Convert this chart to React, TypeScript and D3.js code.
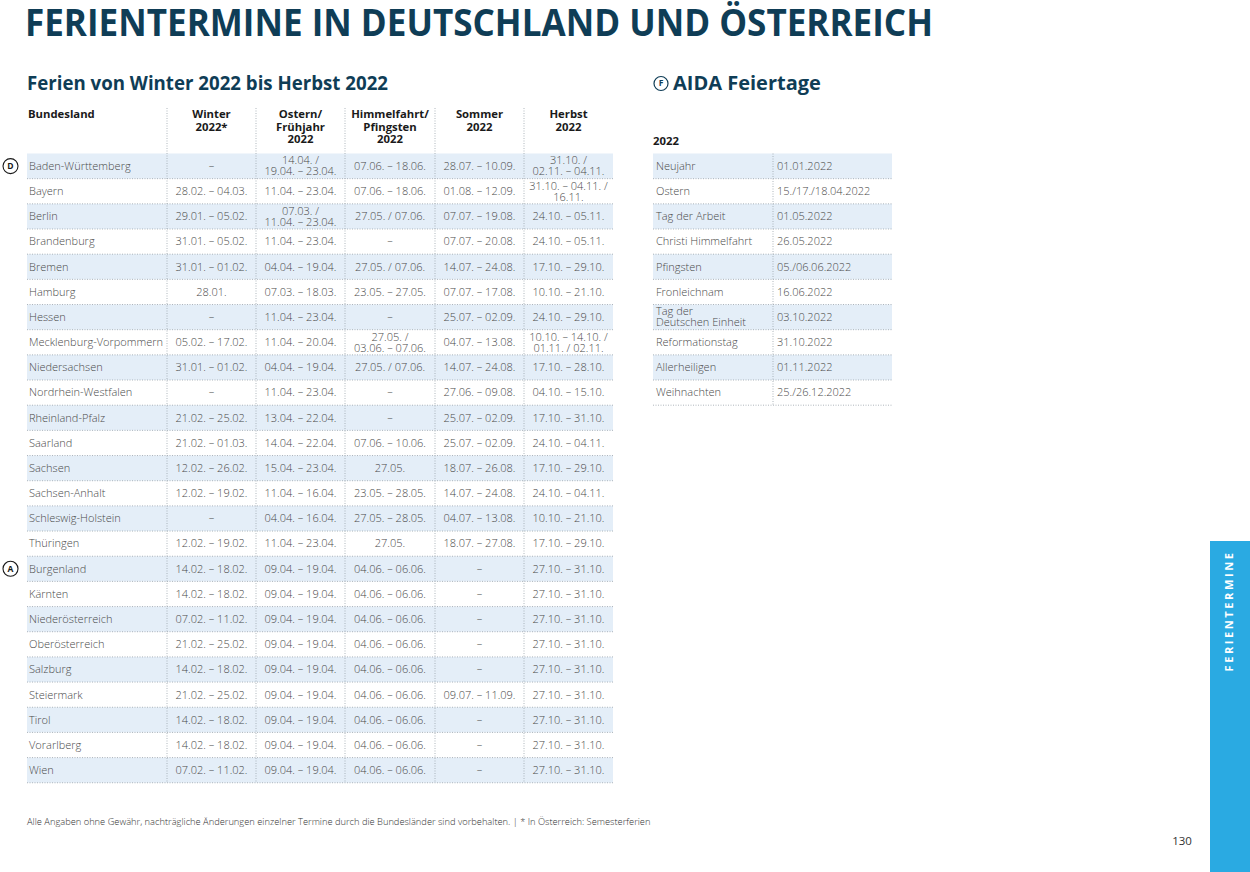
import React from "react";
import * as d3 from "d3";

const states = [
  "Baden-Württemberg", "Bayern", "Berlin", "Brandenburg", "Bremen", "Hamburg", "Hessen",
  "Mecklenburg-Vorpommern", "Niedersachsen", "Nordrhein-Westfalen", "Rheinland-Pfalz",
  "Saarland", "Sachsen", "Sachsen-Anhalt", "Schleswig-Holstein", "Thüringen",
  "Burgenland", "Kärnten", "Niederösterreich", "Oberösterreich", "Salzburg",
  "Steiermark", "Tirol", "Vorarlberg", "Wien",
];
const countryMarks = [
  { state: "Baden-Württemberg", mark: "D" },
  { state: "Burgenland", mark: "A" },
];
const headers = [
  ["Bundesland"],
  ["Winter", "2022*"],
  ["Ostern/", "Frühjahr", "2022"],
  ["Himmelfahrt/", "Pfingsten", "2022"],
  ["Sommer", "2022"],
  ["Herbst", "2022"],
];
const winter = [
  "–", "28.02. – 04.03.", "29.01. – 05.02.", "31.01. – 05.02.", "31.01. – 01.02.", "28.01.", "–",
  "05.02. – 17.02.", "31.01. – 01.02.", "–", "21.02. – 25.02.", "21.02. – 01.03.",
  "12.02. – 26.02.", "12.02. – 19.02.", "–", "12.02. – 19.02.",
  "14.02. – 18.02.", "14.02. – 18.02.", "07.02. – 11.02.", "21.02. – 25.02.", "14.02. – 18.02.",
  "21.02. – 25.02.", "14.02. – 18.02.", "14.02. – 18.02.", "07.02. – 11.02.",
];
const ostern = [
  "14.04. /\n19.04. – 23.04.", "11.04. – 23.04.", "07.03. /\n11.04. – 23.04.", "11.04. – 23.04.",
  "04.04. – 19.04.", "07.03. – 18.03.", "11.04. – 23.04.", "11.04. – 20.04.", "04.04. – 19.04.",
  "11.04. – 23.04.", "13.04. – 22.04.", "14.04. – 22.04.", "15.04. – 23.04.", "11.04. – 16.04.",
  "04.04. – 16.04.", "11.04. – 23.04.",
  "09.04. – 19.04.", "09.04. – 19.04.", "09.04. – 19.04.", "09.04. – 19.04.", "09.04. – 19.04.",
  "09.04. – 19.04.", "09.04. – 19.04.", "09.04. – 19.04.", "09.04. – 19.04.",
];
const himmelfahrt = [
  "07.06. – 18.06.", "07.06. – 18.06.", "27.05. / 07.06.", "–", "27.05. / 07.06.",
  "23.05. – 27.05.", "–", "27.05. /\n03.06. – 07.06.", "27.05. / 07.06.", "–", "–",
  "07.06. – 10.06.", "27.05.", "23.05. – 28.05.", "27.05. – 28.05.", "27.05.",
  "04.06. – 06.06.", "04.06. – 06.06.", "04.06. – 06.06.", "04.06. – 06.06.", "04.06. – 06.06.",
  "04.06. – 06.06.", "04.06. – 06.06.", "04.06. – 06.06.", "04.06. – 06.06.",
];
const sommer = [
  "28.07. – 10.09.", "01.08. – 12.09.", "07.07. – 19.08.", "07.07. – 20.08.", "14.07. – 24.08.",
  "07.07. – 17.08.", "25.07. – 02.09.", "04.07. – 13.08.", "14.07. – 24.08.", "27.06. – 09.08.",
  "25.07. – 02.09.", "25.07. – 02.09.", "18.07. – 26.08.", "14.07. – 24.08.", "04.07. – 13.08.",
  "18.07. – 27.08.",
  "–", "–", "–", "–", "–", "09.07. – 11.09.", "–", "–", "–",
];
const herbst = [
  "31.10. /\n02.11. – 04.11.", "31.10. – 04.11. /\n16.11.", "24.10. – 05.11.", "24.10. – 05.11.",
  "17.10. – 29.10.", "10.10. – 21.10.", "24.10. – 29.10.", "10.10. – 14.10. /\n01.11. / 02.11.",
  "17.10. – 28.10.", "04.10. – 15.10.", "17.10. – 31.10.", "24.10. – 04.11.", "17.10. – 29.10.",
  "24.10. – 04.11.", "10.10. – 21.10.", "17.10. – 29.10.",
  "27.10. – 31.10.", "27.10. – 31.10.", "27.10. – 31.10.", "27.10. – 31.10.", "27.10. – 31.10.",
  "27.10. – 31.10.", "27.10. – 31.10.", "27.10. – 31.10.", "27.10. – 31.10.",
];
const holidayNames = [
  "Neujahr", "Ostern", "Tag der Arbeit", "Christi Himmelfahrt", "Pfingsten", "Fronleichnam",
  "Tag der\nDeutschen Einheit", "Reformationstag", "Allerheiligen", "Weihnachten",
];
const holidayDates = [
  "01.01.2022", "15./17./18.04.2022", "01.05.2022", "26.05.2022", "05./06.06.2022",
  "16.06.2022", "03.10.2022", "31.10.2022", "01.11.2022", "25./26.12.2022",
];

const FONT = "'Open Sans', 'Noto Sans', sans-serif";
const DARK = "#0f3d56";
const TXT = "#4a4a4a";
const STRIPE = "#e4eef8";
const DOT = "#9aa3ab";
const CELL_SIZE = 11;
const CELL_WEIGHT = 300;
const LH = 11;

function MultiText({ x, y, text, anchor, size, weight, fill, lh }: any) {
  const lines = text.split("\n");
  const off = ((lines.length - 1) * lh) / 2;
  return (
    <text x={x} textAnchor={anchor} fontSize={size} fontWeight={weight} fill={fill} fontFamily={FONT}>
      {lines.map((l: string, i: number) => (
        <tspan key={i} x={x} y={y - off + i * lh} dy="0.35em">{l}</tspan>
      ))}
    </text>
  );
}

export default function App() {
  const W = 1250, H = 872;
  const colEdges = [27, 167, 256, 345, 435, 524, 613];
  const columns = [states, winter, ostern, himmelfahrt, sommer, herbst];
  const rowTop = 153.5, rowH = 25.17;
  const y = d3.scaleBand<number>().domain(d3.range(states.length)).range([rowTop, rowTop + rowH * states.length]).padding(0);
  const yH = d3.scaleBand<number>().domain(d3.range(holidayNames.length)).range([rowTop, rowTop + rowH * holidayNames.length]).padding(0);
  const hx0 = 653, hx1 = 773, hx2 = 892;
  const tableBottom = y.range()[1];
  const hBottom = yH.range()[1];

  return (
    <svg width={W} height={H} style={{ position: "absolute", left: 0, top: 0, background: "#fff" }} fontFamily={FONT}>
      <rect x={0} y={0} width={W} height={H} fill="#fff" />
      <text x={25} y={36} fontSize={37} fontWeight={700} fill={DARK} textLength={908} lengthAdjust="spacingAndGlyphs">
        FERIENTERMINE IN DEUTSCHLAND UND ÖSTERREICH
      </text>
      <text x={27} y={90} fontSize={20} fontWeight={700} fill={DARK} textLength={361} lengthAdjust="spacingAndGlyphs">
        Ferien von Winter 2022 bis Herbst 2022
      </text>

      {/* header */}
      {headers.map((h, ci) => {
        const cx = ci === 0 ? colEdges[0] + 1 : (colEdges[ci] + colEdges[ci + 1]) / 2;
        return (
          <text key={ci} x={cx} textAnchor={ci === 0 ? "start" : "middle"} fontSize={11.3} fontWeight={700} fill="#1a1a1a">
            {h.map((l, i) => (
              <tspan key={i} x={cx} y={118 + i * 12.5}>{l}</tspan>
            ))}
          </text>
        );
      })}

      {/* stripes */}
      {states.map((s, i) =>
        i % 2 === 0 ? (
          <rect key={s} x={colEdges[0]} y={y(i)!} width={colEdges[6] - colEdges[0]} height={y.bandwidth()} fill={STRIPE} />
        ) : null
      )}
      {/* row lines */}
      {states.map((s, i) => (
        <line key={"l" + s} x1={colEdges[0]} x2={colEdges[6]} y1={y(i)! + y.bandwidth()} y2={y(i)! + y.bandwidth()}
          stroke={DOT} strokeWidth={0.8} strokeDasharray="1 1.5" />
      ))}
      {/* column lines */}
      {colEdges.slice(1, 6).map((cx) => (
        <line key={"c" + cx} x1={cx} x2={cx} y1={108} y2={tableBottom} stroke={DOT} strokeWidth={0.8} strokeDasharray="1 1.5" />
      ))}
      {/* cells */}
      {columns.map((col, ci) =>
        col.map((v, ri) => {
          const cy = y(ri)! + y.bandwidth() / 2;
          const cx = ci === 0 ? colEdges[0] + 2 : (colEdges[ci] + colEdges[ci + 1]) / 2;
          return (
            <MultiText key={ci + "-" + ri} x={cx} y={cy} text={v} anchor={ci === 0 ? "start" : "middle"}
              size={CELL_SIZE} weight={CELL_WEIGHT} fill={TXT} lh={LH} />
          );
        })
      )}
      {/* country marks */}
      {countryMarks.map((m) => {
        const cy = y(states.indexOf(m.state))! + y.bandwidth() / 2;
        return (
          <g key={m.mark}>
            <circle cx={10.5} cy={cy} r={7.5} fill="none" stroke="#1a1a1a" strokeWidth={1.1} />
            <text x={10.5} y={cy} dy="0.35em" textAnchor="middle" fontSize={8.5} fontWeight={700} fill="#1a1a1a">{m.mark}</text>
          </g>
        );
      })}

      {/* AIDA Feiertage */}
      <circle cx={661} cy={83.5} r={7} fill="none" stroke={DARK} strokeWidth={1.2} />
      <text x={661} y={83.5} dy="0.35em" textAnchor="middle" fontSize={8.5} fontWeight={700} fill={DARK}>F</text>
      <text x={673} y={90} fontSize={20} fontWeight={700} fill={DARK}>AIDA Feiertage</text>
      <text x={653} y={145} fontSize={11.3} fontWeight={700} fill="#1a1a1a">2022</text>
      {holidayNames.map((n, i) =>
        i % 2 === 0 ? <rect key={"hs" + n} x={hx0} y={yH(i)!} width={hx2 - hx0} height={yH.bandwidth()} fill={STRIPE} /> : null
      )}
      {holidayNames.map((n, i) => (
        <line key={"hl" + n} x1={hx0} x2={hx2} y1={yH(i)! + yH.bandwidth()} y2={yH(i)! + yH.bandwidth()}
          stroke={DOT} strokeWidth={0.8} strokeDasharray="1 1.5" />
      ))}
      <line x1={hx1} x2={hx1} y1={rowTop} y2={hBottom} stroke={DOT} strokeWidth={0.8} strokeDasharray="1 1.5" />
      {holidayNames.map((n, i) => {
        const cy = yH(i)! + yH.bandwidth() / 2;
        return (
          <g key={"ht" + n}>
            <MultiText x={hx0 + 3} y={cy} text={n} anchor="start" size={CELL_SIZE} weight={CELL_WEIGHT} fill={TXT} lh={LH} />
            <MultiText x={hx1 + 4} y={cy} text={holidayDates[i]} anchor="start" size={CELL_SIZE} weight={CELL_WEIGHT} fill={TXT} lh={LH} />
          </g>
        );
      })}

      {/* footnote */}
      <text x={27} y={825} fontSize={9.3} fontWeight={300} fill="#333">
        Alle Angaben ohne Gewähr, nachträgliche Änderungen einzelner Termine durch die Bundesländer sind vorbehalten. | * In Österreich: Semesterferien
      </text>
      <text x={1182} y={845} textAnchor="middle" fontSize={11.5} fill="#333">130</text>

      {/* side tab */}
      <rect x={1210} y={541} width={40} height={331} fill="#2aaae2" />
      <text transform="translate(1233,611) rotate(-90)" textAnchor="middle" fontSize={11} fontWeight={700} fill="#fff" letterSpacing={2.6}>
        FERIENTERMINE
      </text>
    </svg>
  );
}
